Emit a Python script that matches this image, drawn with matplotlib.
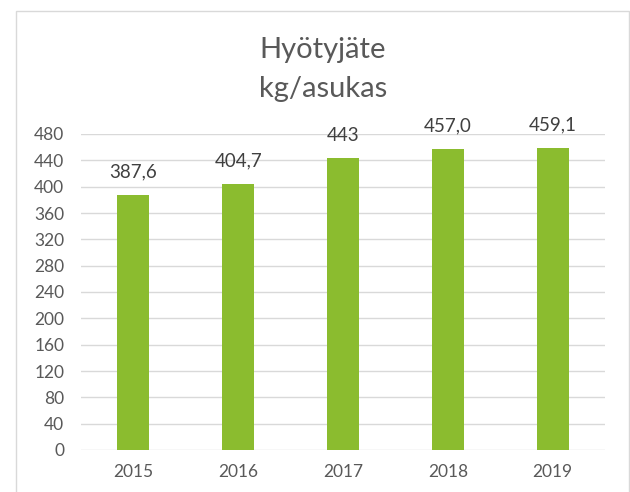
import matplotlib
matplotlib.use("Agg")
import matplotlib.pyplot as plt
from matplotlib.patches import Rectangle

# data
vuodet = ["2015", "2016", "2017", "2018", "2019"]
arvot = [387.6, 404.7, 443.0, 457.0, 459.1]
arvo_tekstit = ["387,6", "404,7", "443", "457,0", "459,1"]
y_ticks = list(range(0, 481, 40))

plt.rcParams["font.family"] = ["Lato", "DejaVu Sans"]

fig = plt.figure(figsize=(6.3, 4.92), dpi=100)

# chart border (Excel-tyylinen kehys)
fig.patches.append(Rectangle((16 / 630, -0.05), 613 / 630, 1.05 - 11 / 492,
                             transform=fig.transFigure, fill=False,
                             edgecolor="#D9D9D9", linewidth=1.0))

ax = fig.add_axes([81 / 630, 42 / 492, 524 / 630, 316 / 492])
x = range(len(vuodet))
ax.bar(x, arvot, width=0.305, color="#8BBC2F", zorder=3)
ax.set_xlim(-0.5, len(vuodet) - 0.5)
ax.set_ylim(0, 480)
ax.set_yticks(y_ticks)
ax.set_xticks(list(x))
ax.set_xticklabels(vuodet)
ax.grid(axis="y", color="#D9D9D9", linewidth=1.0, zorder=0)
for s in ax.spines.values():
    s.set_visible(False)
ax.tick_params(length=0, labelsize=12.5, colors="#595959")
ax.tick_params(axis="y", pad=12)
ax.tick_params(axis="x", pad=10)

for xi, v, t in zip(x, arvot, arvo_tekstit):
    ax.annotate(t, xy=(xi, v), xytext=(0, 12.5), textcoords="offset points",
                ha="center", va="baseline", fontsize=13.5, color="#404040")

fig.text(323 / 630, 1 - 58 / 492, "Hyötyjäte", ha="center", va="baseline",
         fontsize=21, color="#595959")
fig.text(323 / 630, 1 - 97 / 492, "kg/asukas", ha="center", va="baseline",
         fontsize=21, color="#595959")

fig.savefig("out.png", dpi=100)
